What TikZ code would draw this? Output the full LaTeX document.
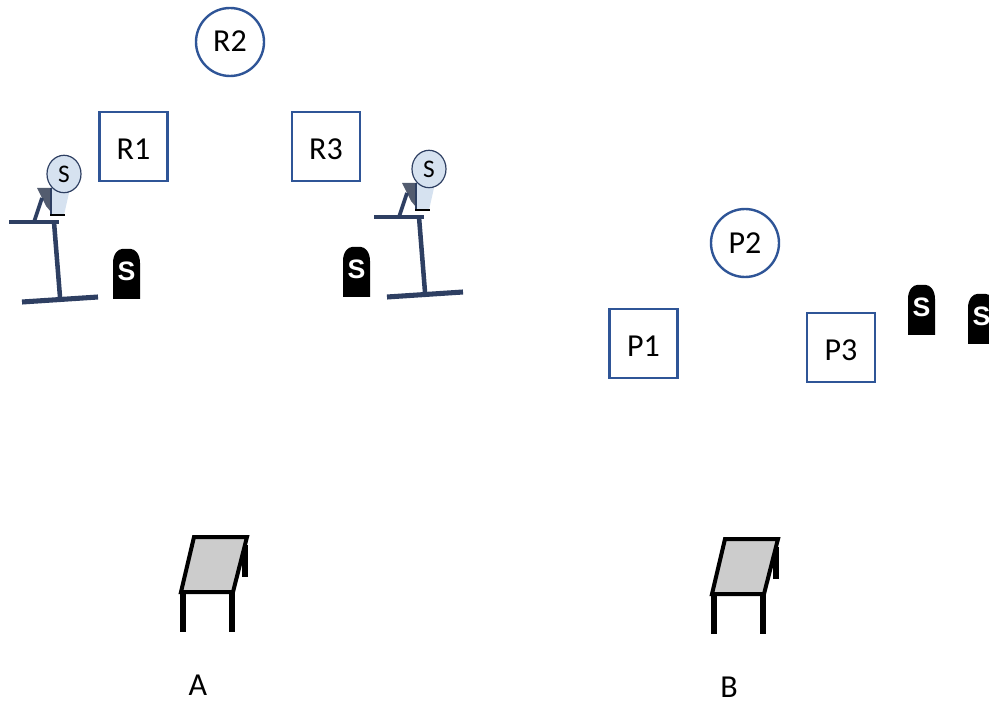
\documentclass[tikz,border=0pt]{standalone}
\usepackage{fontspec}
\setmainfont{Carlito}
\newfontfamily\stonefont{Liberation Sans}
\definecolor{boxblue}{HTML}{2F5597}
\definecolor{standblue}{HTML}{2E3F62}
\definecolor{headblue}{HTML}{D6E2F0}
\definecolor{tabletop}{HTML}{CCCCCC}
\tikzset{
  roundbox/.style={circle,draw=boxblue,line width=1.8pt,fill=white,minimum size=68*0.75pt,inner sep=0pt,font=\fontsize{24}{28}\selectfont,text depth=0pt},
  squarebox/.style={rectangle,draw=boxblue,line width=1.8pt,fill=white,minimum width=68*0.75pt,minimum height=69*0.75pt,inner sep=0pt,font=\fontsize{24}{28}\selectfont,text depth=0pt},
  caption/.style={inner sep=0pt,font=\fontsize{24}{28}\selectfont},
  standbar/.style={draw=standblue,line width=3.4pt},
  tableline/.style={draw=black,line width=3pt},
  tableleg/.style={draw=black,line width=3.8pt},
  stonemark/.style={inner sep=0pt,text=white,font=\stonefont\bfseries\fontsize{20}{24}\selectfont},
  headlabel/.style={inner sep=0pt,font=\fontsize{19}{22}\selectfont},
}
\newcommand{\standfig}[3]{%
  \begin{scope}[shift={(#1,#2)}]
    \fill[standblue!55!gray] (37,188) -- (51,188) -- (51,212) -- (46,206) -- cycle;
    \draw[standbar,line width=2.8pt] (34,222) -- (42,198);
    \draw[standbar,line width=2.4pt] (9,222) -- (59,222);
    \draw[standbar] (54,222) -- (60,297);
    \draw[standbar,line width=3.8pt] (22,302) -- (98,297);
    \fill[headblue] (51,188) -- (69,193) -- (64,215) -- (51,215) -- cycle;
    \draw[standblue,line width=2.2pt] (51,188) -- (51,215);
    \draw[black,line width=1.6pt] (50,215) -- (65,215);
    \node[circle,draw=standblue,line width=0.9pt,fill=headblue,minimum size=34*0.75pt,inner sep=0pt,yscale=1.1] (#3) at (64,174) {};
    \node[headlabel] at (#3) {S};
  \end{scope}}
\newcommand{\stonefig}[3]{%
  \fill[black] (#1,#2+50) -- (#1,#2+14) .. controls (#1,#2+5) and (#1+5,#2) .. (#1+9,#2) -- (#1+18,#2) .. controls (#1+22,#2) and (#1+27,#2+5) .. (#1+27,#2+14) -- (#1+27,#2+50) -- cycle;
  \node[stonemark] (#3) at (#1+13.5,#2+22) {S};}
\newcommand{\tablefig}[2]{%
  \begin{scope}[shift={(#1,#2)}]
    \draw[tableleg] (245,545) -- (245,577);
    \draw[tableline,fill=tabletop,line join=miter] (194,537) -- (247,537) -- (233,592) -- (181,592) -- cycle;
    \draw[tableleg] (183,592) -- (183,632);
    \draw[tableleg] (232,592) -- (232,632);
  \end{scope}}
\begin{document}
\begin{tikzpicture}[x=0.75pt,y=-0.75pt]
  \useasboundingbox (0,0) rectangle (989,702);
  \clip (0,0) rectangle (989,702);
  \node[roundbox,text height=15pt] (r2) at (230,42) {R2};
  \node[squarebox,text height=18.8pt] (r1) at (133.5,146.5) {R1};
  \node[squarebox,text height=18.8pt] (r3) at (326,146.5) {R3};
  \standfig{0}{0}{s1}
  \standfig{365}{-5}{s2}
  \stonefig{113}{249}{m1}
  \stonefig{343}{247}{m2}
  \node[roundbox,text height=16.5pt] (p2) at (745,243) {P2};
  \node[squarebox,text height=18.8pt] (p1) at (643.5,343.5) {P1};
  \node[squarebox,text height=20.2pt] (p3) at (841,347.5) {P3};
  \stonefig{908}{285}{m3}
  \stonefig{968}{294}{m4}
  \tablefig{0}{0}
  \tablefig{531}{2}
  \node[caption] (a) at (198,685) {A};
  \node[caption] (b) at (729,687) {B};
\end{tikzpicture}
\end{document}
